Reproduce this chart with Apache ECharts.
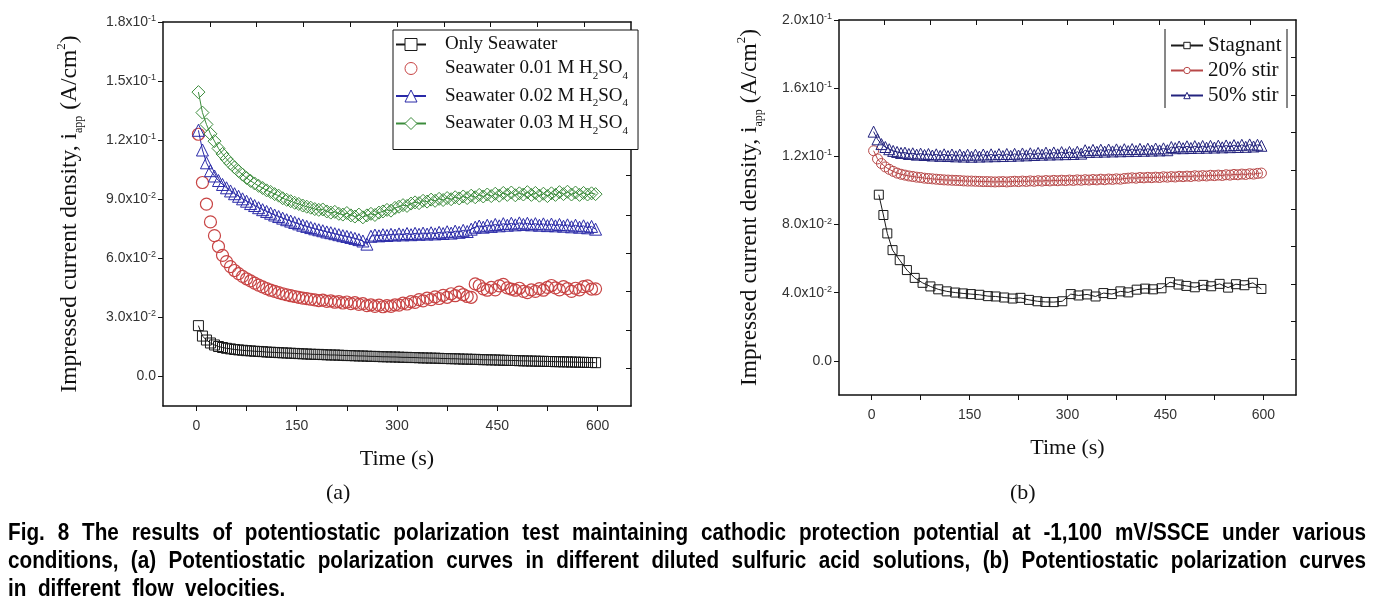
<!DOCTYPE html>
<html><head><meta charset="utf-8">
<script src="https://cdn.jsdelivr.net/npm/echarts@6/dist/echarts.min.js"></script>
<style>
html,body{margin:0;padding:0;background:#fff;overflow:hidden;}
#chart{position:absolute;left:0;top:0;width:1376px;height:607px;}
#cap{position:absolute;left:8px;top:518px;width:1509px;transform:scaleX(0.9);transform-origin:0 0;font-family:'Liberation Sans',Arial,sans-serif;font-weight:bold;font-size:23px;line-height:28px;color:#000;}
#cap .j{text-align:justify;text-align-last:justify;}
</style>
</head><body>
<div id="chart"></div>
<div id="cap">
<div class="j">Fig. 8 The results of potentiostatic polarization test maintaining cathodic protection potential at -1,100 mV/SSCE under various</div>
<div class="j">conditions, (a) Potentiostatic polarization curves in different diluted sulfuric acid solutions, (b) Potentiostatic polarization curves</div>
<div>in&nbsp; different&nbsp; flow&nbsp; velocities.</div>
</div>
<script>
// ---------- DATA ----------
const time = [3,9,15,21,27,33,39,45,51,57,
63,69,75,81,87,93,99,105,111,117,
123,129,135,141,147,153,159,165,171,177,
183,189,195,201,207,213,219,225,231,237,
243,249,255,261,267,273,279,285,291,297,
303,309,315,321,327,333,339,345,351,357,
363,369,375,381,387,393,399,405,411,417,
423,429,435,441,447,453,459,465,471,477,
483,489,495,501,507,513,519,525,531,537,
543,549,555,561,567,573,579,585,591,597];

const onlySeawater = [0.0258,0.0205,0.0185,0.0170,0.0160,0.0152,0.0147,0.0143,0.0140,0.0137,
0.0135,0.0133,0.0131,0.0130,0.0128,0.0127,0.0126,0.0124,0.0123,0.0122,
0.0121,0.0120,0.0119,0.0118,0.0117,0.0116,0.0115,0.0114,0.0113,0.0112,
0.0112,0.0111,0.0110,0.0109,0.0109,0.0108,0.0107,0.0106,0.0106,0.0105,
0.0104,0.0104,0.0103,0.0102,0.0102,0.0101,0.0100,0.0100,0.0099,0.0099,
0.0098,0.0097,0.0097,0.0096,0.0096,0.0095,0.0094,0.0094,0.0093,0.0093,
0.0092,0.0091,0.0091,0.0090,0.0090,0.0089,0.0088,0.0088,0.0087,0.0087,
0.0086,0.0085,0.0085,0.0084,0.0084,0.0083,0.0082,0.0082,0.0081,0.0081,
0.0080,0.0079,0.0079,0.0078,0.0078,0.0077,0.0077,0.0076,0.0076,0.0075,
0.0075,0.0074,0.0074,0.0073,0.0073,0.0072,0.0072,0.0071,0.0071,0.0070];

const acid001 = [0.1230,0.0985,0.0875,0.0785,0.0715,0.0660,0.0615,0.0583,0.0558,0.0538,
0.0522,0.0508,0.0496,0.0485,0.0474,0.0464,0.0455,0.0446,0.0438,0.0432,
0.0426,0.0420,0.0415,0.0410,0.0406,0.0402,0.0398,0.0395,0.0392,0.0389,
0.0385,0.0388,0.0381,0.0384,0.0377,0.0380,0.0373,0.0378,0.0370,0.0375,
0.0366,0.0370,0.0360,0.0364,0.0356,0.0362,0.0354,0.0360,0.0356,0.0364,
0.0362,0.0372,0.0368,0.0380,0.0376,0.0390,0.0384,0.0398,0.0390,0.0404,
0.0396,0.0412,0.0402,0.0420,0.0410,0.0428,0.0416,0.0406,0.0402,0.0470,
0.0462,0.0445,0.0438,0.0452,0.0440,0.0460,0.0468,0.0450,0.0444,0.0438,
0.0448,0.0432,0.0426,0.0440,0.0432,0.0446,0.0438,0.0452,0.0462,0.0450,
0.0440,0.0456,0.0446,0.0432,0.0448,0.0440,0.0456,0.0460,0.0444,0.0445];

const acid002 = [0.1250,0.1150,0.1085,0.1045,0.1018,0.0995,0.0975,0.0958,0.0942,0.0928,
0.0915,0.0902,0.0890,0.0878,0.0868,0.0857,0.0847,0.0838,0.0829,0.0820,
0.0812,0.0804,0.0796,0.0789,0.0782,0.0775,0.0768,0.0762,0.0756,0.0750,
0.0745,0.0740,0.0734,0.0730,0.0725,0.0720,0.0715,0.0711,0.0706,0.0701,
0.0695,0.0688,0.0672,0.0712,0.0718,0.0714,0.0720,0.0716,0.0722,0.0718,
0.0724,0.0719,0.0726,0.0720,0.0727,0.0722,0.0728,0.0723,0.0730,0.0724,
0.0732,0.0726,0.0735,0.0728,0.0738,0.0732,0.0742,0.0736,0.0748,0.0758,
0.0764,0.0758,0.0768,0.0762,0.0772,0.0765,0.0776,0.0768,0.0778,0.0770,
0.0780,0.0772,0.0778,0.0770,0.0776,0.0768,0.0775,0.0766,0.0774,0.0765,
0.0772,0.0763,0.0770,0.0760,0.0768,0.0758,0.0765,0.0755,0.0762,0.0748];

const acid003 = [0.1444,0.1340,0.1280,0.1232,0.1195,0.1158,0.1130,0.1105,0.1082,0.1062,
0.1043,0.1025,0.1008,0.0993,0.0980,0.0968,0.0957,0.0945,0.0937,0.0926,
0.0918,0.0905,0.0897,0.0890,0.0882,0.0876,0.0868,0.0862,0.0857,0.0850,
0.0846,0.0848,0.0838,0.0832,0.0836,0.0826,0.0822,0.0830,0.0818,0.0812,
0.0822,0.0808,0.0818,0.0826,0.0820,0.0832,0.0838,0.0846,0.0842,0.0856,
0.0862,0.0870,0.0866,0.0878,0.0884,0.0880,0.0892,0.0888,0.0898,0.0892,
0.0902,0.0896,0.0906,0.0900,0.0910,0.0904,0.0914,0.0906,0.0918,0.0910,
0.0922,0.0914,0.0924,0.0916,0.0928,0.0918,0.0932,0.0922,0.0934,0.0920,
0.0930,0.0924,0.0936,0.0922,0.0932,0.0918,0.0928,0.0916,0.0930,0.0922,
0.0936,0.0926,0.0938,0.0924,0.0934,0.0922,0.0932,0.0924,0.0930,0.0926];

const stir50 = [0.1345,0.1300,0.1272,0.1255,0.1242,0.1232,0.1226,0.1220,0.1222,0.1214,
0.1218,0.1210,0.1216,0.1208,0.1214,0.1205,0.1212,0.1203,0.1212,0.1202,
0.1211,0.1200,0.1210,0.1199,0.1210,0.1198,0.1210,0.1199,0.1211,0.1200,
0.1212,0.1201,0.1213,0.1202,0.1214,0.1203,0.1215,0.1205,0.1217,0.1206,
0.1218,0.1208,0.1220,0.1210,0.1222,0.1211,0.1223,0.1212,0.1225,0.1213,
0.1226,0.1214,0.1227,0.1216,0.1236,0.1226,0.1238,0.1227,0.1239,0.1228,
0.1240,0.1229,0.1241,0.1230,0.1242,0.1231,0.1243,0.1232,0.1244,0.1233,
0.1245,0.1234,0.1246,0.1235,0.1247,0.1236,0.1255,0.1248,0.1258,0.1248,
0.1259,0.1249,0.1260,0.1250,0.1261,0.1251,0.1262,0.1252,0.1263,0.1253,
0.1264,0.1254,0.1266,0.1255,0.1268,0.1256,0.1270,0.1258,0.1268,0.1262];

const stir20 = [0.1233,0.1185,0.1158,0.1138,0.1124,0.1112,0.1102,0.1095,0.1090,0.1085,
0.1082,0.1078,0.1076,0.1072,0.1070,0.1068,0.1066,0.1064,0.1062,0.1061,
0.1060,0.1059,0.1058,0.1056,0.1055,0.1055,0.1054,0.1053,0.1052,0.1052,
0.1051,0.1050,0.1051,0.1052,0.1050,0.1052,0.1054,0.1052,0.1055,0.1053,
0.1056,0.1054,0.1057,0.1055,0.1058,0.1056,0.1059,0.1057,0.1060,0.1058,
0.1061,0.1059,0.1062,0.1060,0.1063,0.1061,0.1064,0.1062,0.1066,0.1063,
0.1067,0.1065,0.1068,0.1066,0.1070,0.1072,0.1074,0.1072,0.1076,0.1074,
0.1077,0.1075,0.1078,0.1076,0.1080,0.1078,0.1081,0.1079,0.1083,0.1081,
0.1084,0.1082,0.1086,0.1084,0.1087,0.1085,0.1089,0.1087,0.1090,0.1088,
0.1092,0.1090,0.1094,0.1092,0.1096,0.1094,0.1098,0.1096,0.1100,0.1102];

const timeStagnant = [11,18,24,32,43,54,66,78,90,102,
115,128,140,152,165,178,190,203,216,228,
241,254,266,279,292,305,317,330,343,355,
368,381,393,406,419,431,444,457,470,482,
495,508,520,533,546,558,571,584,597];
const stagnant = [0.0975,0.0856,0.0748,0.0650,0.0591,0.0533,0.0487,0.0458,0.0437,0.0420,
0.0408,0.0401,0.0396,0.0392,0.0388,0.0380,0.0378,0.0372,0.0366,0.0370,
0.0358,0.0350,0.0346,0.0345,0.0350,0.0392,0.0384,0.0390,0.0378,0.0398,
0.0392,0.0408,0.0402,0.0418,0.0424,0.0420,0.0426,0.0462,0.0448,0.0440,
0.0432,0.0446,0.0438,0.0452,0.0430,0.0450,0.0444,0.0458,0.0422];

const xTickLabels = [0,150,300,450,600];
const xMinorTicks = [0,75,150,225,300,375,450,525,600];
const yTicksA = [0,0.03,0.06,0.09,0.12,0.15,0.18];
const yLabelsA = ['0.0','3.0x10^-2','6.0x10^-2','9.0x10^-2','1.2x10^-1','1.5x10^-1','1.8x10^-1'];
const yTicksB = [0,0.04,0.08,0.12,0.16,0.20];
const yLabelsB = ['0.0','4.0x10^-2','8.0x10^-2','1.2x10^-1','1.6x10^-1','2.0x10^-1'];

// ---------- CHART ----------
const chart = echarts.init(document.getElementById('chart'), null, {renderer:'canvas'});
const zip = (xs, ys) => xs.map((x,i)=>[x, ys[i]]);
const SANS = "'Liberation Sans',Arial,sans-serif";
const SERIF = "'Liberation Serif','Times New Roman',serif";

function fmtFactory(ticks, labels){
  return function(v){
    let i = ticks.findIndex(t => Math.abs(t - v) < 1e-9);
    if (i < 0) return '';
    const l = labels[i];
    if (l.indexOf('^') >= 0){ const p = l.split('^'); return '{m|' + p[0] + '}{e|' + p[1] + '}'; }
    return '{m|' + l + '}';
  };
}
const tickRich = {
  m:{fontFamily:SANS, fontSize:14, color:'#333', lineHeight:16},
  e:{fontFamily:SANS, fontSize:9, color:'#333', lineHeight:9, verticalAlign:'top'}
};
const yName = '{t|Impressed current density, i}{s|app}{t| (A/cm}{p|2}{t|)}';
const yNameStyle = {
  fontFamily:SERIF, fontSize:23, color:'#111',
  rich:{
    t:{fontFamily:SERIF, fontSize:23.5, color:'#111', lineHeight:30},
    s:{fontFamily:SERIF, fontSize:12, color:'#111', lineHeight:12, verticalAlign:'bottom'},
    p:{fontFamily:SERIF, fontSize:13, color:'#111', lineHeight:12, verticalAlign:'top'}
  }
};
const axLine = {show:true, onZero:false, lineStyle:{color:'#111', width:1.5}};

function xMain(grid){
  return {type:'value', gridIndex:grid, position:'bottom', min:-50, max:650,
    axisLine:axLine, splitLine:{show:false},
    axisTick:{show:true, inside:false, length:5, customValues:xMinorTicks, lineStyle:{color:'#111', width:1}},
    axisLabel:{show:true, customValues:xTickLabels, margin:13, fontFamily:SANS, fontSize:14, color:'#333'},
    name:'Time (s)', nameLocation:'middle', nameGap:42,
    nameTextStyle:{fontFamily:SERIF, fontSize:22, color:'#111'}};
}
function xTop(grid){
  return {type:'value', gridIndex:grid, position:'top', min:-50, max:650,
    axisLine:axLine, splitLine:{show:false},
    axisTick:{show:true, inside:true, length:5, customValues:[20,90,160,230,300,370,440,510,580], lineStyle:{color:'#111', width:1}},
    axisLabel:{show:false}};
}
function yMain(grid, min, max, ticks, labels, gap){
  return {type:'value', gridIndex:grid, position:'left', min:min, max:max,
    axisLine:axLine, splitLine:{show:false},
    axisTick:{show:true, inside:false, length:5, customValues:ticks, lineStyle:{color:'#111', width:1}},
    axisLabel:{show:true, customValues:ticks, margin:7, formatter:fmtFactory(ticks, labels), rich:tickRich},
    name:yName, nameLocation:'middle', nameGap:gap, nameRotate:90, nameTextStyle:yNameStyle};
}
function yRight(grid, min, max, ticks){
  return {type:'value', gridIndex:grid, position:'right', min:min, max:max,
    axisLine:axLine, splitLine:{show:false},
    axisTick:{show:true, inside:true, length:5, customValues:ticks, lineStyle:{color:'#111', width:1}},
    axisLabel:{show:false}};
}

function ser(name, xs, ys, sym, size, color, lw, xi, yi, bw){
  return {type:'line', name:name, xAxisIndex:xi, yAxisIndex:yi, data:zip(xs, ys),
    symbol:sym, symbolSize:size, showSymbol:true, showAllSymbol:true, silent:true,
    itemStyle:{color:'rgba(0,0,0,0)', borderColor:color, borderWidth:bw},
    lineStyle:{color:color, width:lw},
    emphasis:{disabled:true}, animation:false};
}

const cBlack='#1a1a1a', cRed='#c84444', cBlue='#2a2aa8', cGreen='#3c8c3c';
const cRed2='#b84848', cBlue2='#23237e';

const legRich = {
  t:{fontFamily:SERIF, fontSize:19, color:'#111', lineHeight:26},
  s:{fontFamily:SERIF, fontSize:11, color:'#111', lineHeight:12, verticalAlign:'bottom'}
};
const legFmt = n => n.indexOf('H2SO4') >= 0 ? '{t|' + n.replace('H2SO4','') + 'H}{s|2}{t|SO}{s|4}' : '{t|' + n + '}';

const option = {
  animation:false,
  backgroundColor:'#fff',
  grid:[
    {left:163, top:22, width:468, height:384, containLabel:false},
    {left:839, top:20, width:457, height:375, containLabel:false}
  ],
  xAxis:[xMain(0), xTop(0), xMain(1), xTop(1)],
  yAxis:[
    yMain(0, -0.015, 0.18, yTicksA, yLabelsA, 78),
    yRight(0, -0.015, 0.18, [0.0044,0.0237,0.0431,0.0627,0.082,0.1022,0.1215,0.1407,0.1596]),
    yMain(1, -0.02, 0.20, yTicksB, yLabelsB, 74),
    yRight(1, -0.02, 0.20, [0.001,0.0233,0.045,0.0674,0.0891,0.1117,0.134,0.156,0.178])
  ],
  legend:[
    {orient:'vertical', left:393, top:30, padding:[5,10,13,2], itemGap:5, itemWidth:30, itemHeight:15,
     borderColor:'#111', borderWidth:1, backgroundColor:'#fff',
     formatter:legFmt, textStyle:{padding:[0,0,0,14], rich:legRich},
     data:[
      {name:'Only Seawater', itemStyle:{color:'#fff', borderColor:cBlack, borderWidth:1}},
      {name:'Seawater 0.01 M H2SO4', itemStyle:{color:'#fff', borderColor:cRed, borderWidth:1}},
      {name:'Seawater 0.02 M H2SO4', itemStyle:{color:'#fff', borderColor:cBlue, borderWidth:1}},
      {name:'Seawater 0.03 M H2SO4', itemStyle:{color:'#fff', borderColor:cGreen, borderWidth:1}}
     ]},
    {orient:'vertical', left:1168, top:35, padding:[0,2,0,2], itemGap:4, itemWidth:32, itemHeight:8,
     formatter:n => '{t|' + n + '}',
     textStyle:{rich:{t:{fontFamily:SERIF, fontSize:21, color:'#111', lineHeight:25}}},
     data:[
      {name:'Stagnant', itemStyle:{color:'#fff', borderColor:cBlack, borderWidth:1}},
      {name:'20% stir', itemStyle:{color:'#fff', borderColor:cRed2, borderWidth:1}},
      {name:'50% stir', itemStyle:{color:'#fff', borderColor:cBlue2, borderWidth:1}}
     ]}
  ],
  graphic:[
    {type:'text', left:326, top:482, style:{text:'(a)', font:"22px 'Liberation Serif'", fill:'#111'}},
    {type:'text', left:1010, top:482, style:{text:'(b)', font:"22px 'Liberation Serif'", fill:'#111'}},
    {type:'line', shape:{x1:1165, y1:29, x2:1165, y2:108}, style:{stroke:'#111', lineWidth:1}},
    {type:'line', shape:{x1:1287, y1:29, x2:1287, y2:108}, style:{stroke:'#111', lineWidth:1}}
  ],
  series:[
    ser('Only Seawater', time, onlySeawater, 'rect', 10, cBlack, 1, 0, 0, 1),
    ser('Seawater 0.01 M H2SO4', time, acid001, 'circle', 12, cRed, 0, 0, 0, 1.2),
    ser('Seawater 0.02 M H2SO4', time, acid002, 'triangle', 12, cBlue, 1, 0, 0, 1),
    ser('Seawater 0.03 M H2SO4', time, acid003, 'diamond', 13, cGreen, 1, 0, 0, 1),
    ser('Stagnant', timeStagnant, stagnant, 'rect', 9, cBlack, 1, 2, 2, 1),
    ser('20% stir', time, stir20, 'circle', 10, cRed2, 1, 2, 2, 1),
    ser('50% stir', time, stir50, 'triangle', 11, cBlue2, 1, 2, 2, 1)
  ]
};
chart.setOption(option);
</script>
</body></html>
